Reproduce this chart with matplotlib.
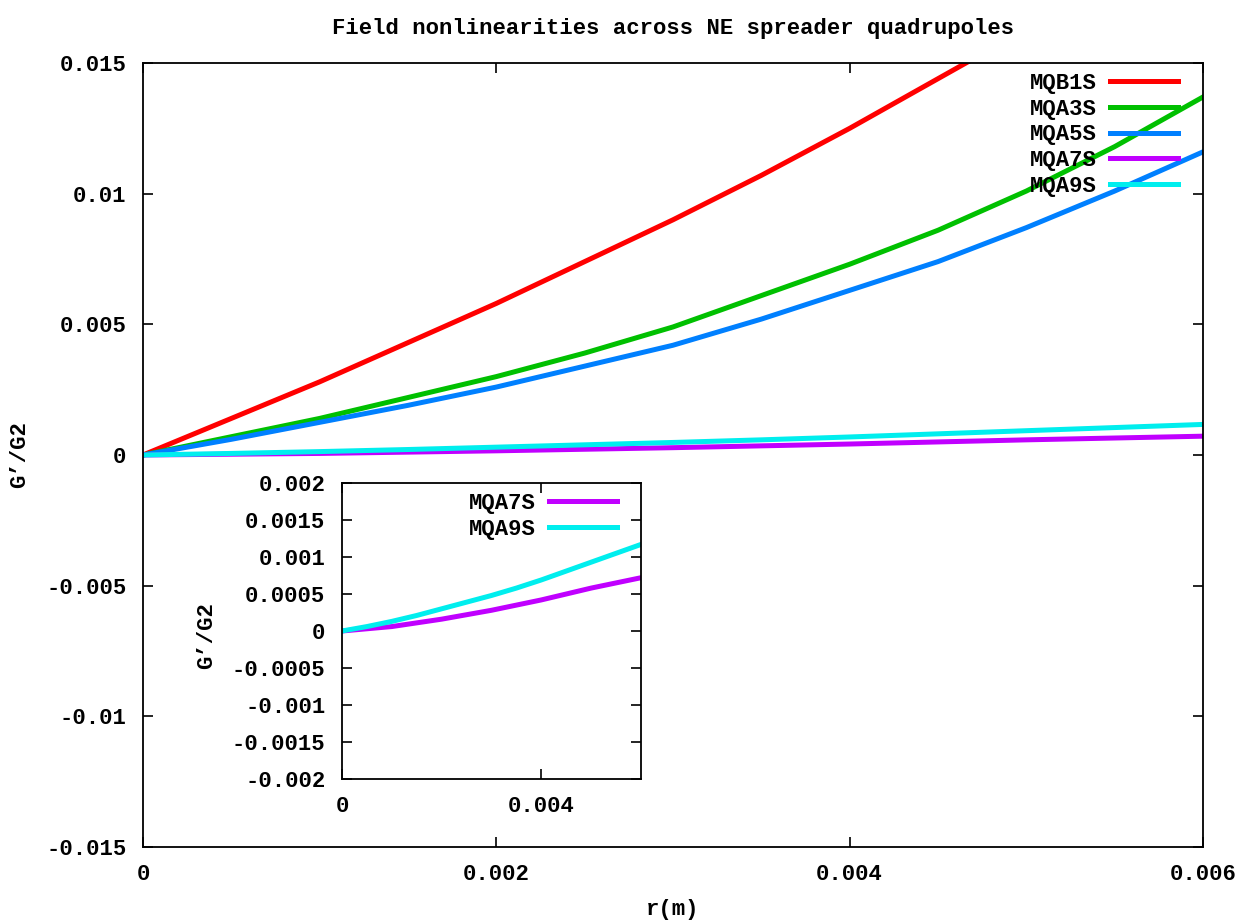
#!/usr/bin/env python3
"""Field nonlinearities across NE spreader quadrupoles (gnuplot-style recreation)."""

import matplotlib

matplotlib.use("Agg")
import matplotlib.pyplot as plt

# radius sample points (m)
r = [0.0, 0.0005, 0.001, 0.0015, 0.002, 0.0025, 0.003,
     0.0035, 0.004, 0.0045, 0.005, 0.0055, 0.006]

# G'/G2 for each magnet
mqb1s = [0.0, 0.0014, 0.0028, 0.0043, 0.0058, 0.0074, 0.0090,
         0.0107, 0.0125, 0.0144, 0.0163, 0.0183, 0.0203]
mqa3s = [0.0, 0.0007, 0.0014, 0.0022, 0.0030, 0.0039, 0.0049,
         0.0061, 0.0073, 0.0086, 0.0101, 0.0118, 0.0137]
mqa5s = [0.0, 0.0006, 0.00125, 0.0019, 0.0026, 0.0034, 0.0042,
         0.0052, 0.0063, 0.0074, 0.0087, 0.0101, 0.0116]
mqa7s = [0.0, 0.00003, 0.00006, 0.00011, 0.00016, 0.00022, 0.00028,
         0.00035, 0.00042, 0.0005, 0.00058, 0.00065, 0.00072]
mqa9s = [0.0, 0.00006, 0.00013, 0.00021, 0.0003, 0.00039, 0.00048,
         0.00058, 0.00069, 0.00081, 0.00093, 0.00105, 0.00117]

labels = ["MQB1S", "MQA3S", "MQA5S", "MQA7S", "MQA9S"]
colors = ["#ff0000", "#00c000", "#0080ff", "#c000ff", "#00eeee"]

main_xticks = [0.0, 0.002, 0.004, 0.006]
main_yticks = [-0.015, -0.01, -0.005, 0.0, 0.005, 0.01, 0.015]
inset_xticks = [0.0, 0.004]
inset_yticks = [-0.002, -0.0015, -0.001, -0.0005, 0.0, 0.0005, 0.001, 0.0015, 0.002]

plt.rcParams["font.family"] = ["Liberation Mono", "DejaVu Sans Mono"]
plt.rcParams["font.weight"] = "bold"
FS = 16
W, H = 1246, 924


def fmt(v):
    return "0" if v == 0 else f"{v:g}"


def style_axes(ax, xticks, yticks):
    ax.set_xticks(xticks)
    ax.set_yticks(yticks)
    ax.set_xticklabels([fmt(v) for v in xticks], fontsize=FS, fontweight="bold")
    ax.set_yticklabels([fmt(v) for v in yticks], fontsize=FS, fontweight="bold")
    ax.tick_params(direction="in", length=7, width=1.2, top=True, right=True)
    ax.tick_params(axis="y", pad=12)
    ax.tick_params(axis="x", pad=12)
    for s in ax.spines.values():
        s.set_linewidth(1.3)


def add_legend(ax, x_px, y_px):
    # right end of the sample lines / top of the first row, in figure pixels
    ax.legend(loc="upper right", bbox_to_anchor=(x_px / W, 1 - y_px / H),
              bbox_transform=fig.transFigure, frameon=False, markerfirst=False,
              borderpad=0, borderaxespad=0, handlelength=3.06,
              handletextpad=0.58, labelspacing=0.21,
              prop={"size": FS, "weight": "bold"})


def set_ylabel_at(ax, text, x_px, width_px, y_frac=0.5):
    ax.set_ylabel(text, fontsize=FS, fontweight="bold",
                  rotation_mode="default", ha="center", va="center")
    ax.yaxis.set_label_coords(-x_px / width_px, y_frac)


fig = plt.figure(figsize=(W / 100, H / 100), dpi=100)
ax = fig.add_axes([143 / W, 1 - 847 / H, 1060 / W, 784 / H])

series = [mqb1s, mqa3s, mqa5s, mqa7s, mqa9s]
for ys, lab, c in zip(series, labels, colors):
    ax.plot(r, ys, color=c, linewidth=3.6, label=lab)

ax.set_xlim(0, 0.006)
ax.set_ylim(-0.015, 0.015)
style_axes(ax, main_xticks, main_yticks)
ax.set_title("Field nonlinearities across NE spreader quadrupoles",
             fontsize=FS, fontweight="bold", pad=21)
ax.set_xlabel("r(m)", fontsize=FS, fontweight="bold", va="center")
ax.xaxis.set_label_coords(0.5, -(910 - 847) / 784)
set_ylabel_at(ax, "G’/G2", 143 - 20, 1060)
add_legend(ax, 1178, 73)

# inset with the two small ones
ins = fig.add_axes([342 / W, 1 - 779 / H, 299 / W, 296 / H])
for ys, lab, c in zip(series[3:], labels[3:], colors[3:]):
    ins.plot(r, ys, color=c, linewidth=3.6, label=lab)
ins.set_xlim(0, 0.006)
ins.set_ylim(-0.002, 0.002)
style_axes(ins, inset_xticks, inset_yticks)
set_ylabel_at(ins, "G’/G2", 342 - 207, 299, 0.5 - 5 / 296)
add_legend(ins, 617, 493)

fig.savefig("out.png", dpi=100)
plt.close(fig)
